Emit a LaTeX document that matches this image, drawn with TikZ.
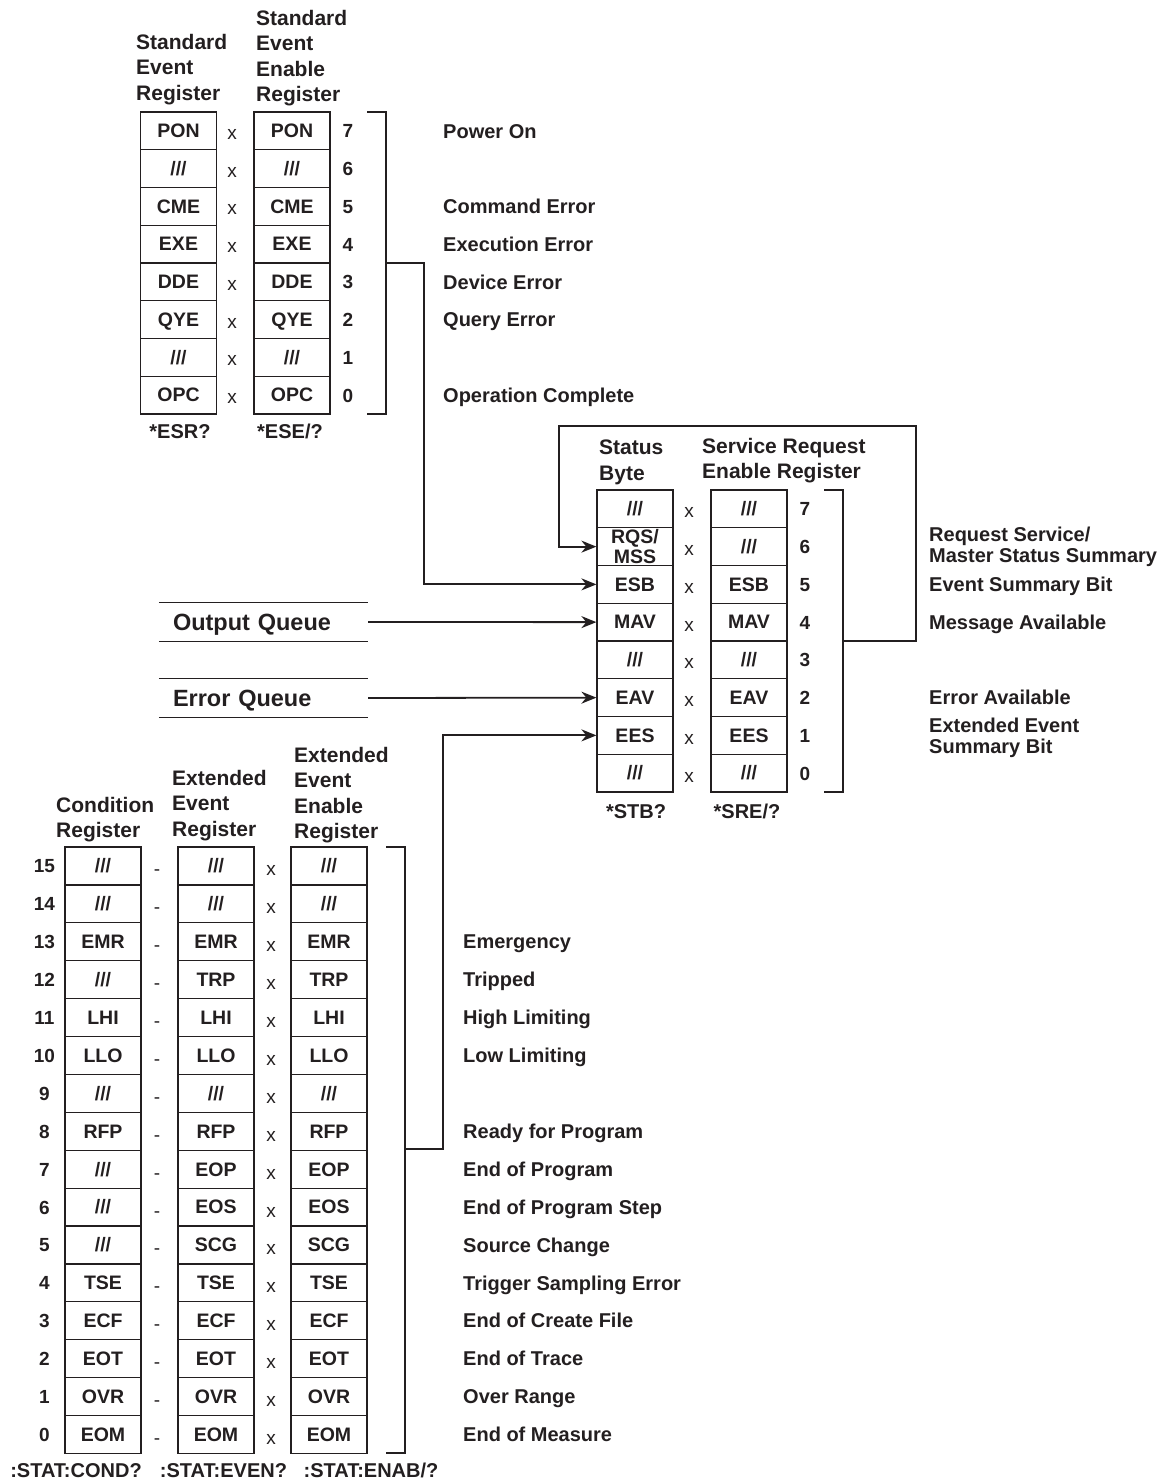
\documentclass[tikz,border=0pt]{standalone}
\usepackage{fontspec}
\setmainfont{Liberation Sans}
\usetikzlibrary{arrows.meta}
\definecolor{ink}{HTML}{231F20}
\newcommand\hdrfont{\bfseries\fontsize{21}{25.5}\selectfont}
\newcommand\cellfont{\bfseries\fontsize{19.5}{20}\selectfont}
\newcommand\bitfont{\bfseries\fontsize{19}{22}\selectfont}
\newcommand\descfont{\bfseries\fontsize{20}{21}\selectfont}
\newcommand\queuefont{\bfseries\fontsize{23.5}{26}\selectfont}
\newcommand\cmdfont{\bfseries\fontsize{20}{22}\selectfont}
\newcommand\opfont{\fontsize{19}{22}\selectfont}
\newcommand\nbit{///}
\newcommand\rqsmss{\raisebox{-1pt}{\begin{tabular}{@{}c@{}}RQS/\\MSS\end{tabular}}}

\begin{document}
\begin{tikzpicture}[x=1pt, y=-1pt,
    cell/.style={draw=ink, line width=1.2pt, minimum width=76pt, minimum height=37.75pt, inner sep=0pt, text=ink, font=\cellfont, text height=13.7pt, text depth=0pt},
    bitno/.style={inner sep=0pt, anchor=base, text=ink, font=\bitfont},
    mult/.style={inner sep=0pt, anchor=base, text=ink, font=\opfont},
    hdr/.style={inner sep=0pt, anchor=north west, align=left, text=ink, font=\hdrfont},
    desc/.style={inner sep=0pt, anchor=base west, text=ink, font=\descfont},
    desctwo/.style={inner sep=0pt, anchor=north west, align=left, text=ink, font=\descfont},
    cmd/.style={inner sep=0pt, anchor=base, text=ink, font=\cmdfont},
    queue/.style={minimum width=209pt, minimum height=38pt, inner xsep=14pt, inner ysep=0pt, text width=181pt, align=left, text height=16.8pt, text depth=0pt, text=ink, font=\queuefont},
    qline/.style={draw=ink, line width=1.3pt},
    brk/.style={draw=ink, line width=1.8pt},
    conn/.style={draw=ink, line width=1.8pt, -{Stealth[length=15pt, width=12pt]}}]
    \useasboundingbox (0,0) rectangle (1166,1481);

    % standard event registers
    \node[hdr] (serhdr) at (136,33.7) {Standard\\Event\\Register};
    \node[hdr] (seehdr) at (256,9.7) {Standard\\Event\\Enable\\Register};
    \foreach \b/\lbl in {7/PON,6/\nbit,5/CME,4/EXE,3/DDE,2/QYE,1/\nbit,0/OPC}{
        \pgfmathsetmacro\yy{112+(7.5-\b)*37.75}
        \node[cell] (ser\b) at (178.5,\yy) {\lbl};
        \node[mult] (serx\b) at (232,\yy+8.5) {x};
        \node[cell] (see\b) at (292,\yy) {\lbl};
        \node[bitno] (seen\b) at (348,\yy+7) {\b};
    }
    \foreach \b/\lbl in {7/Power On,5/Command Error,4/Execution Error,3/Device Error,2/Query Error,0/Operation Complete}{
        \pgfmathsetmacro\yy{112+(7.5-\b)*37.75}
        \node[desc] (sed\b) at (443,\yy+7.2) {\lbl};
    }
    \node[cmd] (esrq) at (180,438) {*ESR?};
    \node[cmd] (eseq) at (290,438) {*ESE/?};
    \draw[brk] (367,112) -- (386,112) -- (386,414) -- (367,414);
    \coordinate (stdsum) at (386,263);

    % status byte and service request enable
    \node[hdr] (sbhdr) at (599,439.7) {Status\\Byte};
    \node[hdr] (srehdr) at (702,437.7) {Service Request\\Enable Register};
    \foreach \b/\lsb/\lsr in {7/\nbit/\nbit,6/\rqsmss/\nbit,5/ESB/ESB,4/MAV/MAV,3/\nbit/\nbit,2/EAV/EAV,1/EES/EES,0/\nbit/\nbit}{
        \pgfmathsetmacro\yy{490+(7.5-\b)*37.75}
        \node[cell] (sb\b) at (635,\yy) {\lsb};
        \node[mult] (sbx\b) at (689,\yy+9) {x};
        \node[cell] (sre\b) at (749,\yy) {\lsr};
        \node[bitno] (sren\b) at (805,\yy+7) {\b};
    }
    \foreach \b/\lbl in {5/Event Summary Bit,4/Message Available,2/Error Available}{
        \pgfmathsetmacro\yy{490+(7.5-\b)*37.75}
        \node[desc] (sbd\b) at (929,\yy+7.2) {\lbl};
    }
    \node[desctwo] (sbd6) at (929,526.4) {Request Service/\\Master Status Summary};
    \node[desctwo] (sbd1) at (929,717.4) {Extended Event\\Summary Bit};
    \node[cmd] (stbq) at (636,818) {*STB?};
    \node[cmd] (sreq) at (747,818) {*SRE/?};
    \draw[brk] (824,490) -- (843,490) -- (843,792) -- (824,792);
    \coordinate (srqsum) at (843,641);

    % queues
    \node[queue] (oq) at (263.5,622) {Output Queue};
    \node[queue] (eq) at (263.5,698) {Error Queue};
    \draw[qline] (oq.north west) -- (oq.north east) (oq.south west) -- (oq.south east);
    \draw[qline] (eq.north west) -- (eq.north east) (eq.south west) -- (eq.south east);

    % extended event registers
    \node[hdr] (crhdr) at (56,796.7) {Condition\\Register};
    \node[hdr] (eerhdr) at (172,769.7) {Extended\\Event\\Register};
    \node[hdr] (eeehdr) at (294,746.7) {Extended\\Event\\Enable\\Register};
    \foreach \b/\lc/\le in {15/\nbit/\nbit,14/\nbit/\nbit,13/EMR/EMR,12/\nbit/TRP,11/LHI/LHI,10/LLO/LLO,9/\nbit/\nbit,8/RFP/RFP,7/\nbit/EOP,6/\nbit/EOS,5/\nbit/SCG,4/TSE/TSE,3/ECF/ECF,2/EOT/EOT,1/OVR/OVR,0/EOM/EOM}{
        \pgfmathsetmacro\yy{847+(15.5-\b)*37.9}
        \node[bitno] (crn\b) at (44.5,\yy+7) {\b};
        \node[cell, minimum height=37.9pt] (cr\b) at (103,\yy) {\lc};
        \node[mult] (crx\b) at (157,\yy+10) {-};
        \node[cell, minimum height=37.9pt] (eer\b) at (216,\yy) {\le};
        \node[mult] (eerx\b) at (271,\yy+10) {x};
        \node[cell, minimum height=37.9pt] (eee\b) at (329,\yy) {\le};
    }
    \foreach \b/\lbl in {13/Emergency,12/Tripped,11/High Limiting,10/Low Limiting,8/Ready for Program,7/End of Program,6/End of Program Step,5/Source Change,4/Trigger Sampling Error,3/End of Create File,2/End of Trace,1/Over Range,0/End of Measure}{
        \pgfmathsetmacro\yy{847+(15.5-\b)*37.9}
        \node[desc] (eed\b) at (463,\yy+7.2) {\lbl};
    }
    \node[cmd] (condq) at (76,1477) {:STAT:COND?};
    \node[cmd] (evenq) at (223.5,1477) {:STAT:EVEN?};
    \node[cmd] (enabq) at (371,1477) {:STAT:ENAB/?};
    \draw[brk] (386,847) -- (405,847) -- (405,1453) -- (386,1453);
    \coordinate (extsum) at (405,1149);

    % connections into the status byte
    \draw[conn] (stdsum) -- (424,263) |- (sb5.west);
    \draw[conn] (srqsum) -- (916,641) |- (559,426) |- (sb6.west);
    \draw[conn] (oq.east) -- (sb4.west);
    \draw[conn] (eq.east) -- (sb2.west);
    \draw[conn] (extsum) -- (443,1149) |- (sb1.west);
\end{tikzpicture}
\end{document}
